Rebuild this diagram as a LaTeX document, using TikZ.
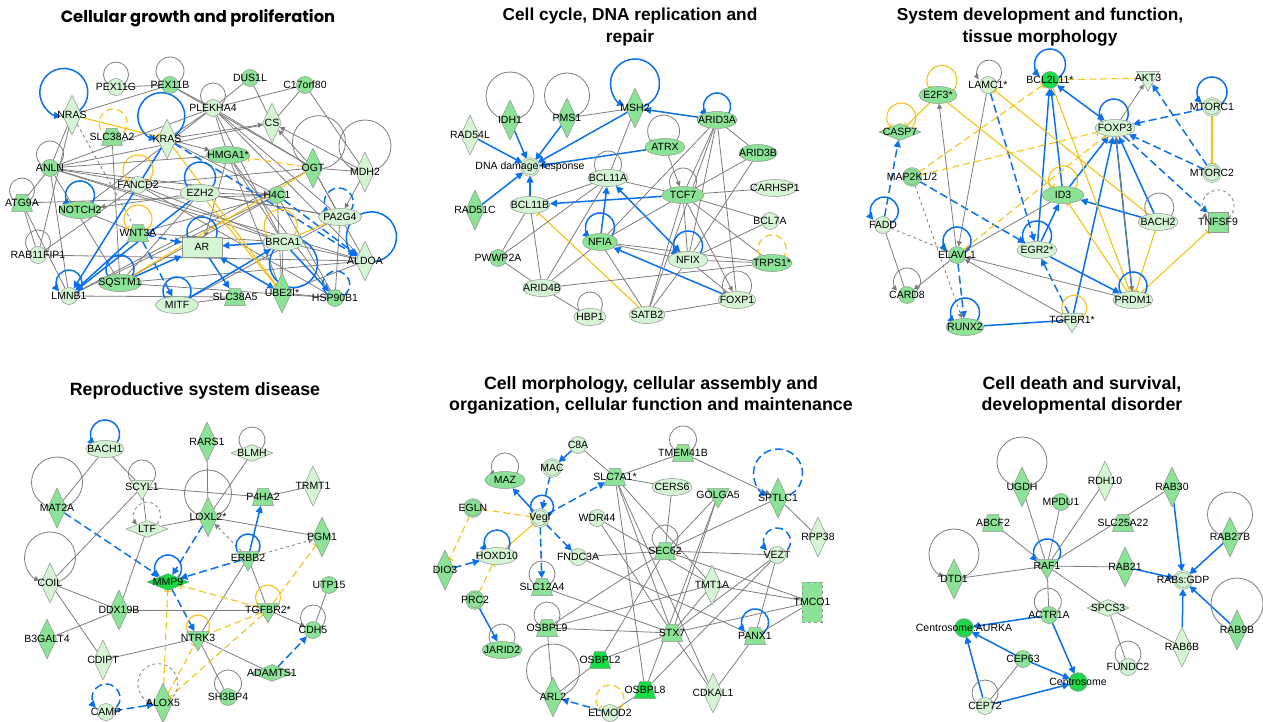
\documentclass[tikz,border=0pt]{standalone}
\usepackage{fontspec}
\setmainfont{Liberation Sans}
\newfontfamily\geofont{Poppins}
\usetikzlibrary{shapes.geometric,arrows.meta,backgrounds}
\definecolor{lightG}{RGB}{212,244,212}
\definecolor{midG}{RGB}{140,226,150}
\definecolor{brightG}{RGB}{20,222,70}
\definecolor{nodeGray}{RGB}{140,150,140}
\definecolor{edgeGray}{RGB}{125,125,125}
\definecolor{ipaBlue}{RGB}{10,112,235}
\definecolor{ipaYellow}{RGB}{245,195,20}

\begin{document}
\begin{tikzpicture}[x=1pt,y=-1pt,
  every label/.style={font=\fontsize{10.5}{11}\selectfont, inner sep=0pt},
  ttl/.style={font=\fontsize{17.8}{21}\selectfont\bfseries, align=center},
  nd/.style={draw=nodeGray, line width=0.5pt, inner sep=0pt},
  lt/.style={nd, fill=lightG},
  dk/.style={nd, fill=midG},
  br/.style={nd, fill=brightG},
  circ/.style={circle, minimum size=17pt},
  ell/.style={ellipse, minimum width=#1, minimum height=17pt},
  ell/.default=42pt,
  dia/.style={diamond, minimum width=19pt, minimum height=40pt},
  hdia/.style={diamond, minimum width=42pt, minimum height=17pt},
  trap/.style={trapezium, trapezium stretches=true, trapezium left angle=65, trapezium right angle=65, inner sep=2pt, minimum width=21pt, minimum height=17pt},
  tri/.style={regular polygon, regular polygon sides=3, shape border rotate=180, minimum size=26pt},
  cplx/.style={circle, minimum size=17pt, double distance=1.3pt},
  gr/.style={draw=edgeGray, line width=0.8pt},
  gra/.style={gr, -{Triangle[length=5pt,width=5pt]}},
  grd/.style={gr, dashed},
  grda/.style={gra, dashed},
  bln/.style={draw=ipaBlue, line width=1.5pt},
  bl/.style={bln, -{Triangle[length=7pt,width=7pt]}},
  blb/.style={bln, {Triangle[length=7pt,width=7pt]}-{Triangle[length=7pt,width=7pt]}},
  bld/.style={bl, dash pattern=on 8pt off 4pt},
  bldn/.style={bln, dash pattern=on 8pt off 4pt},
  yln/.style={draw=ipaYellow, line width=1.1pt},
  yl/.style={yln, -{Bar[width=7pt]}},
  yld/.style={yl, dash pattern=on 7pt off 4pt},
  yldn/.style={yln, dash pattern=on 7pt off 4pt},
  lp/.style 2 args={to path={(\tikztostart.center) ++(#1:0.5*#2) circle[radius=0.5*#2]}},
  lpa/.style 2 args={to path={(\tikztostart.center) arc[start angle=#1-180, delta angle={360-2*asin(11/#2)}, radius=0.5*#2]}}]

\useasboundingbox (0,0) rectangle (1263,722);

% titles
\node[font=\geofont\bfseries\fontsize{16.3}{19}\selectfont] (t1) at (198,18) {Cellular growth and proliferation};
\node[ttl, font=\fontsize{17.3}{22.5}\selectfont\bfseries] (t2) at (630,27) {Cell cycle, DNA replication and\\repair};
\node[ttl, font=\fontsize{17.3}{22.5}\selectfont\bfseries] (t3) at (1040,27) {System development and function,\\tissue morphology};
\node[ttl] (t4) at (195,391) {Reproductive system disease};
\node[ttl] (t5) at (651,395) {Cell morphology, cellular assembly and\\organization, cellular function and maintenance};
\node[ttl] (t6) at (1082,395) {Cell death and survival,\\developmental disorder};

% cellular growth and proliferation
\node[lt,dia,label=center:NRAS] (nras) at (72,115) {};
\node[lt,circ,label=center:PEX11G] (pexg) at (116,87) {};
\node[dk,circ,label=center:PEX11B] (pexb) at (170,85) {};
\node[dk,circ,label=center:DUS1L] (dus) at (250,78) {};
\node[dk,circ,label=center:C17orf80] (corf) at (305,85) {};
\node[lt,circ,label=center:PLEKHA4] (plek) at (213,108) {};
\node[lt,dia,label=center:CS] (cs) at (272,123) {};
\node[dk,trap,label=center:SLC38A2] (slca) at (112,137) {};
\node[lt,dia,label=center:KRAS] (kras) at (167,139) {};
\node[dk,ell=43pt,label=center:HMGA1*] (hmga) at (228,155) {};
\node[dk,dia,label=center:OGT] (ogt) at (313,168) {};
\node[lt,dia,label=center:MDH2] (mdh) at (365,172) {};
\node[dk,circ,label=center:ANLN] (anln) at (50,168) {};
\node[lt,circ,label=center:FANCD2] (fanc) at (138,185) {};
\node[lt,ell=40pt,label=center:EZH2] (ezh) at (200,193) {};
\node[dk,circ,label=center:H4C1] (hfc) at (277,195) {};
\node[dk,trap,label=center:ATG9A] (atg) at (22,203) {};
\node[dk,ell=42pt,label=center:NOTCH2] (notch) at (80,210) {};
\node[lt,ell=43pt,label=center:PA2G4] (pag) at (340,217) {};
\node[dk,trap,label=center:WNT3A] (wnt) at (138,233) {};
\node[lt,rectangle,minimum width=40pt,minimum height=20pt,label=center:AR] (ar) at (202,247) {};
\node[lt,ell=40pt,label=center:BRCA1] (brca) at (283,242) {};
\node[lt,dia,label=center:ALDOA] (aldoa) at (365,261) {};
\node[lt,circ,label=center:RAB11FIP1] (rabf) at (38,255) {};
\node[dk,ell=43pt,label=center:SQSTM1] (sqst) at (120,283) {};
\node[lt,circ,label=center:LMNB1] (lmnb) at (69,296) {};
\node[lt,ell=43pt,label=center:MITF] (mitf) at (177,305) {};
\node[dk,trap,label=center:SLC38A5] (slcb) at (235,297) {};
\node[dk,dia,label=center:UBE2I*] (ube) at (282,293) {};
\node[dk,circ,label=center:HSP90B1] (hsp) at (335,298) {};

% cell cycle, DNA replication and repair
\node[dk,dia,label=center:IDH1] (idh) at (510,120) {};
\node[dk,dia,label=center:PMS1] (pms) at (567,118) {};
\node[dk,dia,label=center:MSH2] (msh) at (635,108) {};
\node[dk,ell=40pt,label=center:ARID3A] (arida) at (717,120) {};
\node[lt,dia,label=center:RAD54L] (rad54) at (470,135) {};
\node[dk,ell=40pt,label=center:ATRX] (atrx) at (665,147) {};
\node[dk,ell=38pt,label=center:ARID3B] (aridb) at (758,153) {};
\node[lt,cplx,double=lightG,label=center:DNA damage response] (dna) at (530,167) {};
\node[lt,ell=40pt,label=center:BCL11A] (bcla) at (608,178) {};
\node[dk,ell=42pt,label=center:TCF7] (tcf) at (683,195) {};
\node[lt,ell=44pt,label=center:CARHSP1] (carh) at (775,188) {};
\node[lt,ell=40pt,label=center:BCL11B] (bclb) at (530,205) {};
\node[dk,dia,label=center:RAD51C] (rad51) at (475,210) {};
\node[lt,circ,label=center:BCL7A] (bcl7) at (770,221) {};
\node[dk,ell=35pt,label=center:NFIA] (nfia) at (600,242) {};
\node[lt,ell=40pt,label=center:NFIX] (nfix) at (688,260) {};
\node[dk,ell=40pt,label=center:TRPS1*] (trps) at (772,263) {};
\node[dk,circ,label=center:PWWP2A] (pwwp) at (498,258) {};
\node[lt,ell=38pt,label=center:ARID4B] (arid4) at (542,288) {};
\node[lt,ell=38pt,label=center:FOXP1] (foxp1) at (737,300) {};
\node[lt,ell=32pt,label=center:HBP1] (hbp) at (590,317) {};
\node[lt,ell=36pt,label=center:SATB2] (satb) at (647,315) {};

% system development and function, tissue morphology
\node[br,circ,label=center:BCL2L11*] (bcl2) at (1050,80) {};
\node[lt,tri,label=center:AKT3] (akt) at (1148,78) {};
\node[lt,circ,label=center:LAMC1*] (lamc) at (988,85) {};
\node[dk,ell=38pt,label=center:E2F3*] (efs) at (938,95) {};
\node[lt,cplx,double=lightG,label=center:MTORC1] (mtorA) at (1212,107) {};
\node[dk,hdia,label=center:CASP7] (casp) at (900,132) {};
\node[lt,ell=40pt,label=center:FOXP3] (foxp3) at (1115,128) {};
\node[dk,cplx,double=midG,label=center:MAP2K1/2] (mapk) at (912,177) {};
\node[lt,cplx,double=lightG,label=center:MTORC2] (mtorB) at (1212,173) {};
\node[dk,ell=42pt,label=center:ID3] (idt) at (1063,195) {};
\node[lt,circ,label=center:FADD] (fadd) at (883,225) {};
\node[lt,ell=40pt,label=center:BACH2] (bachb) at (1158,222) {};
\node[dk,rectangle,minimum size=20pt,label=center:TNFSF9] (tnf) at (1218,222) {};
\node[lt,ell=40pt,label=center:EGR2*] (egr) at (1037,250) {};
\node[dk,circ,label=center:ELAVL1] (elav) at (957,255) {};
\node[dk,circ,label=center:CARD8] (card) at (907,295) {};
\node[lt,ell=40pt,label=center:PRDM1] (prdm) at (1133,300) {};
\node[dk,ell=38pt,label=center:RUNX2] (runx) at (965,327) {};
\node[lt,tri,label=center:TGFBR1*] (tgfa) at (1072,320) {};

% reproductive system disease
\node[lt,ell=38pt,label=center:BACH1] (bacha) at (105,449) {};
\node[dk,dia,label=center:RARS1] (rars) at (207,442) {};
\node[lt,hdia,label=center:BLMH] (blmh) at (252,453) {};
\node[lt,tri,label=center:SCYL1] (scyl) at (142,487) {};
\node[lt,dia,label=center:TRMT1] (trmt) at (313,486) {};
\node[dk,trap,label=center:P4HA2] (pfha) at (263,497) {};
\node[dk,dia,label=center:MAT2A] (mat) at (57,508) {};
\node[dk,dia,label=center:LOXL2*] (loxl) at (208,517) {};
\node[lt,hdia,label=center:LTF] (ltf) at (147,529) {};
\node[dk,dia,label=center:PGM1] (pgm) at (322,537) {};
\node[dk,tri,label=center:ERBB2] (erbb) at (248,558) {};
\node[br,hdia,label=center:MMP9] (mmp) at (168,582) {};
\node[lt,dia,label=center:COIL] (coil) at (50,583) {};
\node[dk,circ,label=center:UTP15] (utp) at (329,585) {};
\node[dk,dia,label=center:DDX19B] (ddx) at (119,610) {};
\node[dk,tri,label=center:TGFBR2*] (tgfb) at (268,610) {};
\node[dk,circ,label=center:CDH5] (cdh) at (313,630) {};
\node[dk,tri,label=center:NTRK3] (ntrk) at (198,638) {};
\node[dk,dia,label=center:B3GALT4] (bgal) at (47,639) {};
\node[lt,dia,label=center:CDIPT] (cdipt) at (103,660) {};
\node[dk,hdia,label=center:ADAMTS1] (adam) at (272,673) {};
\node[dk,circ,label=center:SH3BP4] (shbp) at (228,697) {};
\node[lt,circ,label=center:CAMP] (camp) at (106,712) {};
\node[dk,dia,label=center:ALOX5] (alox) at (163,703) {};

% cell morphology, cellular assembly and organization
\node[lt,circ,label=center:C8A] (ceight) at (578,445) {};
\node[dk,trap,label=center:TMEM41B] (tmem) at (683,453) {};
\node[dk,ell=40pt,label=center:MAZ] (maz) at (505,480) {};
\node[lt,cplx,double=lightG,label=center:MAC] (mac) at (552,468) {};
\node[dk,trap,label=center:SLC7A1*] (slcc) at (615,477) {};
\node[lt,ell=40pt,label=center:CERS6] (cers) at (672,487) {};
\node[dk,tri,label=center:GOLGA5] (golga) at (718,495) {};
\node[dk,dia,label=center:SPTLC1] (sptlc) at (778,498) {};
\node[dk,cplx,double=midG,label=center:EGLN] (egln) at (473,508) {};
\node[lt,cplx,double=lightG,label=center:Vegf] (vegf) at (540,518) {};
\node[lt,circ,label=center:WDR44] (wdr) at (597,518) {};
\node[lt,dia,label=center:RPP38] (rpp) at (818,537) {};
\node[lt,ell=40pt,label=center:HOXD10] (hoxd) at (497,556) {};
\node[dk,dia,label=center:DIO3] (dio) at (445,570) {};
\node[lt,circ,label=center:FNDC3A] (fndc) at (578,557) {};
\node[dk,trap,label=center:SEC62] (sec) at (665,551) {};
\node[lt,circ,label=center:VEZT] (vezt) at (777,555) {};
\node[lt,dia,label=center:TMT1A] (tmt) at (712,585) {};
\node[dk,trap,label=center:SLC12A4] (slcd) at (542,587) {};
\node[dk,cplx,double=midG,label=center:PRC2] (prc) at (475,600) {};
\node[dk,rectangle,dashed,minimum width=20pt,minimum height=40pt,label=center:TMCO1] (tmco) at (812,602) {};
\node[dk,trap,label=center:OSBPL9] (osbA) at (547,628) {};
\node[dk,trap,label=center:STX7] (stx) at (672,633) {};
\node[dk,trap,label=center:PANX1] (panx) at (755,636) {};
\node[dk,ell=40pt,label=center:JARID2] (jarid) at (502,650) {};
\node[br,trap,label=center:OSBPL2] (osbB) at (600,660) {};
\node[br,trap,label=center:OSBPL8] (osbC) at (645,690) {};
\node[lt,dia,label=center:CDKAL1] (cdkal) at (713,693) {};
\node[dk,dia,label=center:ARL2] (arl) at (553,697) {};
\node[lt,circ,label=center:ELMOD2] (elmod) at (610,713) {};

% cell death and survival
\node[dk,dia,label=center:UGDH] (ugdh) at (1022,487) {};
\node[lt,dia,label=center:RDH10] (rdh) at (1105,481) {};
\node[dk,dia,label=center:RAB30] (rabt) at (1172,487) {};
\node[dk,circ,label=center:MPDU1] (mpdu) at (1061,502) {};
\node[dk,trap,label=center:ABCF2] (abcf) at (993,523) {};
\node[dk,trap,label=center:SLC25A22] (slce) at (1123,523) {};
\node[dk,dia,label=center:RAB27B] (rabtsb) at (1230,537) {};
\node[dk,dia,label=center:DTD1] (dtd) at (954,579) {};
\node[dk,tri,label=center:RAF1] (raf) at (1047,566) {};
\node[dk,dia,label=center:RAB21] (rabtw) at (1125,567) {};
\node[lt,cplx,double=lightG,label={center:{RABs:GDP}}] (rabs) at (1183,580) {};
\node[lt,hdia,label=center:SPCS3] (spcs) at (1108,608) {};
\node[dk,circ,label=center:ACTR1A] (actr) at (1049,615) {};
\node[br,cplx,double=brightG,label={center:{Centrosome:AURKA}}] (cenaur) at (964,628) {};
\node[dk,dia,label=center:RAB9B] (rabn) at (1237,630) {};
\node[lt,dia,label=center:RAB6B] (rabsix) at (1182,647) {};
\node[dk,circ,label=center:CEP63] (cepst) at (1023,659) {};
\node[lt,circ,label=center:FUNDC2] (fundc) at (1128,667) {};
\node[br,cplx,double=brightG,label=center:Centrosome] (cen) at (1078,682) {};
\node[lt,circ,label=center:CEP72] (cepsv) at (985,706) {};

\begin{pgfonlayer}{background}
\fill[white] (0,0) rectangle (1263,722);

% cellular growth and proliferation
\path
  (nras) edge[gr] (pexb)
  (nras) edge[gr] (anln)
  (nras) edge[gr] (rabf)
  (nras) edge[grd] (wnt)
  (pexg) edge[gr] (pexb)
  (pexb) edge[gr] (plek)
  (pexb) edge[gr] (ogt)
  (dus) edge[gr] (plek)
  (dus) edge[gr] (cs)
  (corf) edge[gr] (cs)
  (corf) edge[gr] (mdh)
  (corf) edge[gr] (plek)
  (plek) edge[gr] (kras)
  (plek) edge[gr] (hmga)
  (plek) edge[gr] (ogt)
  (plek) edge[gr] (pag)
  (plek) edge[gr] (aldoa)
  (plek) edge[gr] (anln)
  (plek) edge[gr] (notch)
  (plek) edge[gr] (brca)
  (kras) edge[gra] (cs)
  (kras) edge[gra] (hmga)
  (kras) edge[gr] (hfc)
  (ogt) edge[gra] (cs)
  (mdh) edge[gra] (cs)
  (mdh) edge[gra] (pag)
  (mdh) edge[gr] (ogt)
  (anln) edge[gr] (hfc)
  (anln) edge[gr] (brca)
  (anln) edge[gr] (hmga)
  (anln) edge[gr] (pag)
  (anln) edge[gr] (sqst)
  (anln) edge[gr] (lmnb)
  (anln) edge[gr] (aldoa)
  (anln) edge[gr] (atg)
  (atg) edge[gr] (lmnb)
  (atg) edge[gr] (rabf)
  (atg) edge[gr] (hfc)
  (ezh) edge[gra] (notch)
  (slca) edge[gr] (sqst)
  (fanc) edge[gr] (ogt)
  (fanc) edge[gr] (hsp)
  (fanc) edge[gr] (brca)
  (fanc) edge[gr] (rabf)
  (ezh) edge[gr] (hfc)
  (ezh) edge[gr] (pag)
  (ezh) edge[gr] (sqst)
  (hmga) edge[gr] (ube)
  (hmga) edge[gr] (brca)
  (hmga) edge[gr] (hsp)
  (hmga) edge[gra] (ar)
  (hfc) edge[gr] (lmnb)
  (hfc) edge[gr] (sqst)
  (hfc) edge[gr] (hsp)
  (hfc) edge[gr] (ube)
  (ogt) edge[gr] (aldoa)
  (ogt) edge[gr] (pag)
  (ogt) edge[gr] (lmnb)
  (pag) edge[gr] (hsp)
  (pag) edge[gr] (mitf)
  (brca) edge[gr] (aldoa)
  (brca) edge[gr] (ube)
  (rabf) edge[gr] (aldoa)
  (lmnb) edge[gr] (slcb)
  (mitf) edge[gr] (slcb)
  (sqst) edge[gr] (aldoa)
  (sqst) edge[gr] (hsp)
  (ube) edge[gr] (hsp)
  (ube) edge[gr] (aldoa)
  (wnt) edge[gr] (notch)
  (wnt) edge[gr] (hfc)
  (wnt) edge[gr] (brca)
  (cs) edge[gr] (anln)
  (kras) edge[bl] (lmnb)
  (ezh) edge[bl] (lmnb)
  (wnt) edge[bl] (lmnb)
  (kras) edge[bld] (aldoa)
  (hfc) edge[bld] (aldoa)
  (wnt) edge[bld] (ar)
  (wnt) edge[bld] (mitf)
  (sqst) edge[bl] (ar)
  (ar) edge[bl] (slcb)
  (brca) edge[bl] (ar)
  (ube) edge[blb] (ar)
  (mitf) edge[bl] (brca)
  (brca) edge[bl] (hsp)
  (nras) edge[yl] (kras)
  (ogt) edge[yld] (hmga)
  (kras) edge[yl] (ube)
  (ogt) edge[yln] (sqst)
  (ezh) edge[yl] (ube)
  (pag) edge[yln] (brca)
  (pexg) edge[gr,lp={90}{25pt}] (pexg)
  (pexb) edge[gr,lp={90}{28pt}] (pexb)
  (plek) edge[gr,lp={90}{25pt}] (plek)
  (anln) edge[gr,lp={90}{27pt}] (anln)
  (atg) edge[gr,lp={90}{25pt}] (atg)
  (rabf) edge[gr,lp={90}{25pt}] (rabf)
  (mdh) edge[gr,lp={90}{52pt}] (mdh)
  (ogt) edge[gr,lp={77}{53pt}] (ogt)
  (nras) edge[bl,lpa={110}{48pt}] (nras)
  (kras) edge[bl,lpa={104}{47pt}] (kras)
  (notch) edge[bl,lpa={90}{29pt}] (notch)
  (ezh) edge[bln,lp={90}{31pt}] (ezh)
  (ar) edge[bl,lpa={90}{30pt}] (ar)
  (sqst) edge[bln,lp={90}{28pt}] (sqst)
  (lmnb) edge[bl,lpa={90}{26pt}] (lmnb)
  (mitf) edge[bln,lp={90}{28pt}] (mitf)
  (brca) edge[bl,lpa={-64}{48pt}] (brca)
  (pag) edge[bld,lpa={95}{29pt}] (pag)
  (aldoa) edge[bl,lpa={75}{50pt}] (aldoa)
  (hsp) edge[bldn,lp={85}{27pt}] (hsp)
  (fanc) edge[yl,lpa={90}{30pt}] (fanc)
  (wnt) edge[yl,lpa={90}{28pt}] (wnt)
  (brca) edge[yl,lpa={98}{33pt}] (brca)
  (slca) edge[yldn,lp={85}{28pt}] (slca)
;

% cell cycle, DNA replication and repair
\path
  (idh) edge[bl] (dna)
  (pms) edge[bl] (dna)
  (msh) edge[bl] (dna)
  (rad54) edge[bl] (dna)
  (atrx) edge[bl] (dna)
  (rad51) edge[bl] (dna)
  (bclb) edge[bl] (dna)
  (arida) edge[bl] (msh)
  (tcf) edge[bl] (bclb)
  (nfia) edge[bl] (bcla)
  (nfix) edge[blb] (bcla)
  (foxp1) edge[bl] (nfia)
  (satb) edge[yl] (bclb)
  (pms) edge[gr] (msh)
  (msh) edge[gr] (bcla)
  (atrx) edge[gra] (tcf)
  (arida) edge[gr] (tcf)
  (arida) edge[gr] (aridb)
  (arida) edge[gr] (nfia)
  (arida) edge[gr] (nfix)
  (arida) edge[gr] (foxp1)
  (arida) edge[gr] (satb)
  (aridb) edge[gr] (tcf)
  (aridb) edge[gr] (nfix)
  (bcla) edge[gr] (bclb)
  (bcla) edge[gr] (tcf)
  (bcla) edge[gr] (arid4)
  (bcla) edge[gr] (pwwp)
  (tcf) edge[gr] (carh)
  (tcf) edge[gr] (bcl7)
  (tcf) edge[gr] (trps)
  (tcf) edge[gr] (nfia)
  (tcf) edge[gr] (nfix)
  (tcf) edge[gra] (foxp1)
  (tcf) edge[gr] (satb)
  (arid4) edge[gr] (trps)
  (bcl7) edge[gr] (nfix)
  (nfia) edge[gr] (nfix)
  (nfia) edge[gr] (trps)
  (nfia) edge[gr] (arid4)
  (nfia) edge[gr] (satb)
  (nfix) edge[gr] (trps)
  (nfix) edge[gr] (satb)
  (nfix) edge[gr] (foxp1)
  (bclb) edge[gr] (arid4)
  (bclb) edge[gr] (pwwp)
  (pwwp) edge[gr] (arid4)
  (arid4) edge[gr] (hbp)
  (satb) edge[gr] (foxp1)
  (idh) edge[gr,lp={90}{48pt}] (idh)
  (pms) edge[gr,lp={90}{45pt}] (pms)
  (msh) edge[bl,lpa={90}{49pt}] (msh)
  (arida) edge[bl,lpa={90}{27pt}] (arida)
  (atrx) edge[gra,lpa={95}{32pt}] (atrx)
  (bcla) edge[gr,lp={90}{27pt}] (bcla)
  (tcf) edge[gr,lp={90}{27pt}] (tcf)
  (nfia) edge[bl,lpa={90}{29pt}] (nfia)
  (nfix) edge[bl,lpa={90}{29pt}] (nfix)
  (trps) edge[yld,lpa={90}{28pt}] (trps)
  (foxp1) edge[gra,lpa={90}{29pt}] (foxp1)
  (hbp) edge[gr,lp={90}{25pt}] (hbp)
;

% system development and function, tissue morphology
\path
  (foxp3) edge[blb] (bcl2)
  (idt) edge[bl] (bcl2)
  (egr) edge[bl] (bcl2)
  (egr) edge[bl] (idt)
  (idt) edge[bl] (foxp3)
  (bachb) edge[bl] (idt)
  (bachb) edge[bl] (foxp3)
  (prdm) edge[bl] (foxp3)
  (tgfa) edge[bl] (foxp3)
  (egr) edge[bl] (prdm)
  (runx) edge[bln] (tgfa)
  (lamc) edge[bld] (egr)
  (mapk) edge[bld] (egr)
  (fadd) edge[bld] (casp)
  (elav) edge[bld] (runx)
  (tgfa) edge[bld] (egr)
  (mtorA) edge[bld] (foxp3)
  (mtorB) edge[bld] (foxp3)
  (mtorB) edge[bld] (akt)
  (foxp3) edge[bld] (tnf)
  (foxp3) edge[gra] (akt)
  (lamc) edge[gra] (elav)
  (elav) edge[gra] (efs)
  (idt) edge[gra] (elav)
  (prdm) edge[gra] (elav)
  (tgfa) edge[gra] (elav)
  (elav) edge[gra] (card)
  (fadd) edge[gr] (card)
  (fadd) edge[grda] (elav)
  (mapk) edge[grda] (runx)
  (foxp3) edge[gra] (prdm)
  (akt) edge[yld] (bcl2)
  (efs) edge[yl] (casp)
  (efs) edge[yl] (idt)
  (mapk) edge[yld] (bcl2)
  (mapk) edge[yld] (foxp3)
  (elav) edge[yld] (foxp3)
  (bachb) edge[yl] (lamc)
  (prdm) edge[yl] (idt)
  (bcl2) edge[yln] (prdm)
  (bachb) edge[yl] (prdm)
  (prdm) edge[yl] (tnf)
  (mtorA) edge[yl] (mtorB)
  (bcl2) edge[bl,lpa={90}{31pt}] (bcl2)
  (lamc) edge[gra,lpa={85}{25pt}] (lamc)
  (efs) edge[yl,lpa={75}{30pt}] (efs)
  (casp) edge[yl,lpa={85}{29pt}] (casp)
  (mtorA) edge[bl,lpa={90}{30pt}] (mtorA)
  (foxp3) edge[bln,lp={95}{29pt}] (foxp3)
  (idt) edge[yl,lpa={90}{29pt}] (idt)
  (fadd) edge[bl,lpa={85}{28pt}] (fadd)
  (bachb) edge[gr,lp={85}{29pt}] (bachb)
  (tnf) edge[grda,lpa={90}{32pt}] (tnf)
  (egr) edge[bln,lp={90}{29pt}] (egr)
  (elav) edge[bl,lpa={90}{28pt}] (elav)
  (card) edge[gra,lpa={90}{27pt}] (card)
  (prdm) edge[bln,lp={90}{28pt}] (prdm)
  (runx) edge[bl,lpa={90}{29pt}] (runx)
  (tgfa) edge[yln,lp={80}{25pt}] (tgfa)
;

% reproductive system disease
\path
  (mat) edge[bld] (mmp)
  (loxl) edge[bld] (mmp)
  (erbb) edge[bld] (mmp)
  (mmp) edge[bld] (ntrk)
  (adam) edge[bld] (cdh)
  (camp) edge[bld] (alox)
  (erbb) edge[bl] (pfha)
  (bacha) edge[gr] (mat)
  (bacha) edge[gr] (scyl)
  (scyl) edge[gr] (pfha)
  (scyl) edge[gr] (coil)
  (scyl) edge[gr] (ltf)
  (pfha) edge[gr] (trmt)
  (loxl) edge[gr] (rars)
  (loxl) edge[gr] (blmh)
  (loxl) edge[gr] (ltf)
  (loxl) edge[gr] (pgm)
  (erbb) edge[grda] (loxl)
  (erbb) edge[grda] (pgm)
  (erbb) edge[gr] (tgfb)
  (erbb) edge[gr] (ntrk)
  (ltf) edge[gr] (ddx)
  (coil) edge[gr] (ddx)
  (coil) edge[gr] (cdipt)
  (ddx) edge[gr] (tgfb)
  (ddx) edge[gr] (bgal)
  (tgfb) edge[gra] (cdh)
  (cdh) edge[gr] (utp)
  (ntrk) edge[gr] (cdipt)
  (ntrk) edge[gr] (adam)
  (ntrk) edge[gr] (shbp)
  (tgfb) edge[yld] (mmp)
  (tgfb) edge[yld] (pgm)
  (alox) edge[yld] (mmp)
  (tgfb) edge[yldn] (ntrk)
  (tgfb) edge[yld] (alox)
  (alox) edge[yld] (ntrk)
  (bacha) edge[bl,lpa={90}{29pt}] (bacha)
  (mat) edge[gr,lp={90}{51pt}] (mat)
  (scyl) edge[gr,lp={90}{27pt}] (scyl)
  (blmh) edge[gr,lp={90}{26pt}] (blmh)
  (loxl) edge[gr,lp={90}{47pt}] (loxl)
  (ltf) edge[grda,lpa={90}{27pt}] (ltf)
  (coil) edge[gra,lpa={90}{51pt}] (coil)
  (erbb) edge[bln,lp={90}{24pt}] (erbb)
  (mmp) edge[bl,lpa={90}{27pt}] (mmp)
  (tgfb) edge[yln,lp={90}{25pt}] (tgfb)
  (cdh) edge[gr,lp={90}{25pt}] (cdh)
  (ntrk) edge[yln,lp={90}{23pt}] (ntrk)
  (shbp) edge[gr,lp={90}{27pt}] (shbp)
  (alox) edge[grda,lpa={105}{40pt}] (alox)
  (camp) edge[bld,lpa={90}{28pt}] (camp)
;

% cell morphology, cellular assembly and organization
\path
  (ceight) edge[bl] (mac)
  (mac) edge[bld] (vegf)
  (vegf) edge[bl] (maz)
  (vegf) edge[bld] (slcc)
  (vegf) edge[bld] (fndc)
  (vegf) edge[bld] (slcd)
  (dio) edge[bld] (hoxd)
  (prc) edge[bl] (jarid)
  (elmod) edge[bld] (arl)
  (egln) edge[yld] (vegf)
  (egln) edge[yld] (dio)
  (hoxd) edge[yl] (vegf)
  (prc) edge[yld] (hoxd)
  (ceight) edge[gr] (slcc)
  (slcc) edge[gr] (cers)
  (tmem) edge[gr] (slcc)
  (tmem) edge[gra] (sptlc)
  (sptlc) edge[gr] (rpp)
  (sptlc) edge[gr] (sec)
  (cers) edge[gr] (sec)
  (golga) edge[gr] (sec)
  (golga) edge[gr] (stx)
  (golga) edge[gr] (osbC)
  (wdr) edge[gr] (tmt)
  (fndc) edge[gr] (sec)
  (fndc) edge[gr] (panx)
  (sec) edge[gr] (vezt)
  (sec) edge[gr] (tmco)
  (sec) edge[gr] (osbA)
  (sec) edge[gr] (osbB)
  (slcc) edge[gr] (stx)
  (slcc) edge[gr] (tmt)
  (slcc) edge[gr] (osbC)
  (slcc) edge[gr] (cdkal)
  (slcd) edge[gr] (stx)
  (tmt) edge[gr] (tmco)
  (tmt) edge[gr] (osbA)
  (tmt) edge[gr] (stx)
  (vezt) edge[gr] (stx)
  (vezt) edge[gr] (panx)
  (vezt) edge[gr] (osbC)
  (tmco) edge[gr] (stx)
  (tmco) edge[gr] (panx)
  (osbA) edge[gr] (stx)
  (osbA) edge[gr] (arl)
  (stx) edge[gr] (osbB)
  (stx) edge[gr] (cdkal)
  (panx) edge[gr] (cdkal)
  (osbC) edge[gr] (elmod)
  (arl) edge[gr] (osbB)
  (wdr) edge[gr] (stx)
  (tmem) edge[gr,lp={90}{27pt}] (tmem)
  (maz) edge[gra,lpa={90}{27pt}] (maz)
  (vegf) edge[bln,lp={80}{23pt}] (vegf)
  (sptlc) edge[bld,lpa={90}{49pt}] (sptlc)
  (hoxd) edge[bl,lpa={90}{26pt}] (hoxd)
  (sec) edge[gr,lp={90}{26pt}] (sec)
  (vezt) edge[bld,lpa={90}{27pt}] (vezt)
  (slcd) edge[gr,lp={90}{26pt}] (slcd)
  (osbA) edge[gr,lp={90}{26pt}] (osbA)
  (panx) edge[bl,lpa={90}{27pt}] (panx)
  (jarid) edge[gr,lp={90}{26pt}] (jarid)
  (arl) edge[gr,lp={90}{53pt}] (arl)
  (elmod) edge[yld,lpa={90}{28pt}] (elmod)
;

% cell death and survival
\path
  (ugdh) edge[gr] (raf)
  (mpdu) edge[gr] (raf)
  (rdh) edge[gr] (raf)
  (rabt) edge[gr] (raf)
  (abcf) edge[gr] (raf)
  (dtd) edge[gr] (raf)
  (raf) edge[gr] (rabtw)
  (raf) edge[gr] (actr)
  (raf) edge[gr] (spcs)
  (spcs) edge[gr] (rabsix)
  (spcs) edge[gr] (fundc)
  (cepst) edge[gr] (cepsv)
  (rabt) edge[bl] (rabs)
  (rabtsb) edge[bl] (rabs)
  (rabtw) edge[bl] (rabs)
  (rabsix) edge[bl] (rabs)
  (rabn) edge[bl] (rabs)
  (actr) edge[bl] (cenaur)
  (actr) edge[bl] (cen)
  (cepst) edge[bl] (cenaur)
  (cepst) edge[bl] (cen)
  (cepsv) edge[bl] (cenaur)
  (cepsv) edge[bl] (cen)
  (ugdh) edge[gr,lp={90}{50pt}] (ugdh)
  (dtd) edge[gra,lpa={90}{50pt}] (dtd)
  (raf) edge[bl,lpa={90}{27pt}] (raf)
  (rabtsb) edge[gr,lp={90}{45pt}] (rabtsb)
  (rabn) edge[gr,lp={90}{52pt}] (rabn)
  (actr) edge[gr,lp={95}{27pt}] (actr)
  (fundc) edge[gr,lp={90}{26pt}] (fundc)
  (cepsv) edge[gr,lp={90}{26pt}] (cepsv)
;
\end{pgfonlayer}
\end{tikzpicture}
\end{document}
